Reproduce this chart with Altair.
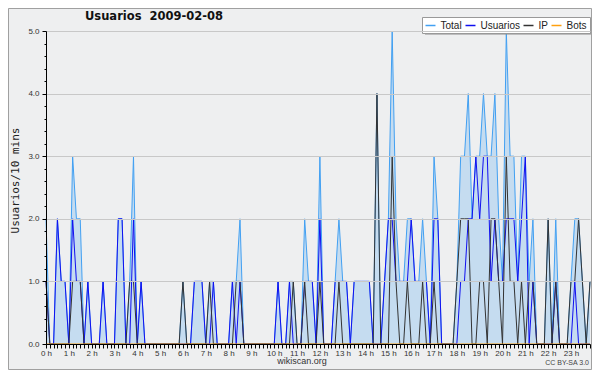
import altair as alt
import pandas as pd

# ---- data (10-minute slots over 24 h) ----
SLOTS = list(range(144))
TOTAL = [2,0,0,2,1,1, 0,3,2,2,0,1, 0,0,0,1,0,0, 0,2,2,0,1,3,
         0,1,0,0,0,0, 0,0,0,0,0,0, 1,0,0,1,1,1, 0,1,1,0,0,0,
         0,1,1,2,0,0, 0,0,0,0,0,0, 0,1,0,0,1,1, 0,0,2,1,1,0,
         3,0,0,0,1,2, 1,1,0,1,1,1, 1,1,0,4,0,1, 2,5,2,1,1,2,
         2,1,1,2,1,0, 3,2,0,0,0,0, 1,3,3,4,2,3, 3,4,3,3,4,2,
         1,5,3,3,1,3, 3,1,2,0,0,0, 2,0,2,0,0,0, 1,2,2,1,0,1]
USUARIOS = [1,0,0,2,1,1, 0,2,1,1,0,1, 0,0,0,1,0,0, 0,2,2,0,0,2,
            0,1,0,0,0,0, 0,0,0,0,0,0, 0,0,0,1,1,1, 0,0,1,0,0,0,
            0,1,0,1,0,0, 0,0,0,0,0,0, 0,1,0,0,1,0, 0,0,1,1,1,0,
            2,0,0,0,1,1, 1,1,0,1,1,1, 1,1,0,0,0,1, 2,2,1,1,1,1,
            2,1,1,1,1,0, 2,2,0,0,0,0, 0,1,1,2,2,3, 2,3,3,1,2,1,
            1,2,2,2,1,2, 3,0,1,0,0,0, 0,0,1,0,0,0, 0,1,0,0,0,0]
IP = [1,0,0,0,0,0, 0,1,1,1,0,0, 0,0,0,0,0,0, 0,0,0,0,1,1,
      0,0,0,0,0,0, 0,0,0,0,0,0, 1,0,0,0,0,0, 0,1,0,0,0,0,
      0,0,1,1,0,0, 0,0,0,0,0,0, 0,0,0,0,0,1, 0,0,1,0,0,0,
      1,0,0,0,0,1, 0,0,0,0,0,0, 0,0,0,4,0,0, 0,3,1,0,0,1,
      0,0,0,1,0,0, 1,0,0,0,0,0, 1,2,2,2,0,0, 1,1,0,2,2,1,
      0,3,1,1,0,1, 0,1,1,0,0,0, 2,0,1,0,0,0, 1,1,2,1,0,1]
BOTS = [0] * 144

SERIES = ["Total", "Usuarios", "IP", "Bots"]
COLORS = ["#42a0f2", "#1010f0", "#333333", "#ffa010"]
Y_TICKS = [0.0, 0.2, 0.4, 0.6, 0.8, 1.0, 1.2, 1.4, 1.6, 1.8, 2.0, 2.2, 2.4,
           2.6, 2.8, 3.0, 3.2, 3.4, 3.6, 3.8, 4.0, 4.2, 4.4, 4.6, 4.8, 5.0]
TITLE = "Usuarios\u00a0\u00a02009-02-08"
Y_TITLE = "Usuarios/10 mins"
FOOTER = "wikiscan.org"
LICENSE = "CC BY-SA 3.0"

# ---- tables ----
rows = []
for name, vals in zip(SERIES, [TOTAL, USUARIOS, IP, BOTS]):
    for s, v in zip(SLOTS, vals):
        rows.append({"slot": s, "serie": name, "valor": v})
df = pd.DataFrame(rows)
area_df = pd.DataFrame({"slot": SLOTS, "valor": TOTAL})

W, H = 544, 313
BG = "#eeeff0"
SANS = "Liberation Sans"

xscale = alt.Scale(domain=[0, 143], nice=False, zero=False)
yscale = alt.Scale(domain=[0, 5], nice=False)

xaxis = alt.Axis(
    values=SLOTS, tickCount=1000,
    labelExpr="datum.value % 6 == 0 ? (datum.value / 6) + ' h' : ''",
    labelOverlap=False, labelFlush=False, labelBound=False,
    tickSize=4, labelPadding=1,
    labelFont=SANS, labelFontSize=8, labelColor="#333333",
    domainColor="#000000", tickColor="#000000", domainWidth=1, tickWidth=1,
    grid=False, title=None, zindex=1,
)
yaxis = alt.Axis(
    values=Y_TICKS, tickCount=1000,
    labelExpr="datum.value % 1 == 0 ? format(datum.value, '.1f') : ''",
    labelOverlap=False, labelFlush=False,
    tickSize={"condition": {"test": "datum.value % 1 == 0", "value": 4}, "value": 2},
    labelPadding=3,
    labelFont=SANS, labelFontSize=8, labelColor="#333333",
    domainColor="#000000", tickColor="#000000", domainWidth=1, tickWidth=1,
    grid=True, gridColor="#c8c8c8", gridWidth=1,
    gridOpacity={"condition": {"test": "datum.value % 1 == 0", "value": 1}, "value": 0},
    title=Y_TITLE, titleFont="DejaVu Sans Mono", titleFontSize=11,
    titleFontWeight="normal", titleColor="#222222",
    titleAngle=270, titleX=-31, titleY=149, titleAlign="center",
    titleBaseline="middle",
    zindex=1,
)

color = alt.Color(
    "serie:N",
    scale=alt.Scale(domain=SERIES, range=COLORS),
    legend=alt.Legend(
        orient="none", legendX=376, legendY=-14, direction="horizontal",
        title=None, symbolType="stroke", symbolSize=100, symbolStrokeWidth=1.5,
        labelFont=SANS, labelFontSize=10, labelColor="#222222",
        fillColor="#ffffff", strokeColor="#999999", padding=2.5,
        columnPadding=0, labelOffset=4,
    ),
)

X = alt.X("slot:Q", scale=xscale, axis=xaxis)
Y = alt.Y("valor:Q", scale=yscale, axis=yaxis)

area = alt.Chart(area_df).mark_area(color="#c5dcf0", opacity=1).encode(x=X, y=Y)

lines = []
for name in SERIES:
    lines.append(
        alt.Chart(df).transform_filter(alt.datum.serie == name)
        .mark_line(strokeWidth=1, interpolate="linear")
        .encode(x=X, y=Y, color=color)
    )

title = alt.Chart(pd.DataFrame({"t": [TITLE]})).mark_text(
    font="DejaVu Sans", fontWeight="bold", fontSize=11.5, align="left",
    baseline="alphabetic", color="#111111",
).encode(x=alt.value(39), y=alt.value(-11), text="t:N")

foot = alt.Chart(pd.DataFrame({"t": [FOOTER]})).mark_text(
    font=SANS, fontSize=9, align="center", baseline="alphabetic", color="#333333",
).encode(x=alt.value(256), y=alt.value(333), text="t:N")

lic = alt.Chart(pd.DataFrame({"t": [LICENSE]})).mark_text(
    font=SANS, fontSize=7, align="right", baseline="alphabetic", color="#444444",
).encode(x=alt.value(543), y=alt.value(334), text="t:N")

shadow = alt.Chart(pd.DataFrame({"k": [0]})).mark_rect(color="#8c8c8c").encode(
    x=alt.value(379), x2=alt.value(545), y=alt.value(-11), y2=alt.value(3.5)
)

frame = alt.Chart(pd.DataFrame({"k": [0]})).mark_rect(
    fill=None, stroke="#a0a0a0", strokeWidth=1
).encode(x=alt.value(-37.5), x2=alt.value(545.5), y=alt.value(-22.5), y2=alt.value(338.5))

chart = alt.layer(area, *lines, shadow, title, foot, lic, frame).properties(
    width=W, height=H,
    autosize=alt.AutoSizeParams(type="none"),
    padding={"left": 38, "top": 23, "right": 2, "bottom": 26},
    background=BG,
).configure_view(strokeWidth=0)

chart.save("out.html", embed_options={"renderer": "svg", "actions": False})
